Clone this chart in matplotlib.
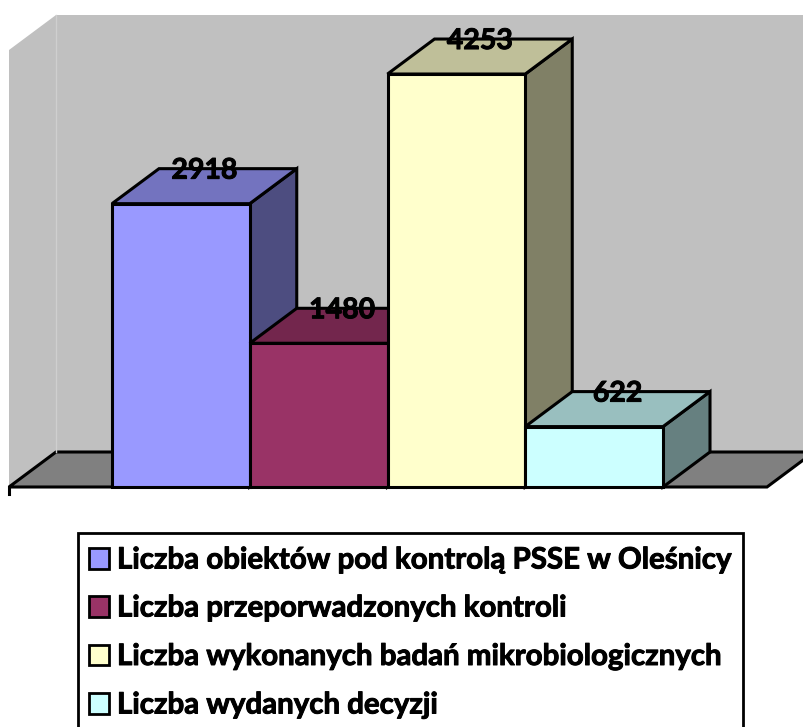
import matplotlib
matplotlib.use("Agg")
import matplotlib.pyplot as plt
import matplotlib.patheffects as pe
from matplotlib.patches import Polygon, Rectangle

labels = ["Liczba obiektów pod kontrolą PSSE w Oleśnicy",
          "Liczba przeporwadzonych kontroli",
          "Liczba wykonanych badań mikrobiologicznych",
          "Liczba wydanych decyzji"]
values = [2918, 1480, 4253, 622]
front_colors = ["#9999FF", "#993366", "#FFFFCC", "#CCFFFF"]
top_colors = ["#7373BF", "#73264D", "#BFBF99", "#99BFBF"]
side_colors = ["#4D4D80", "#4D1A33", "#808066", "#668080"]

W, H = 804, 727
plt.rcParams["font.family"] = ["Lato", "DejaVu Sans"]
plt.rcParams["font.weight"] = "bold"

fig = plt.figure(figsize=(W / 100, H / 100), dpi=100)
ax = fig.add_axes([0, 0, 1, 1])

# one bar is 1 wide on x, y is in the values of the chart
x_px = 137.75
y_px = 0.0971
x0 = 112
y0 = 487
ax.set_xlim(-x0 / x_px, (W - x0) / x_px)
ax.set_ylim(-(H - y0) / y_px, y0 / y_px)
ax.axis("off")

# depth of the fake 3d
dx = 47 / x_px
dy = 35 / y_px
edge = dict(edgecolor="black", linewidth=2.2, joinstyle="miter")
heavy = [pe.withStroke(linewidth=0.7, foreground="black")]

# walls and floor
left = -103 / x_px
right = (767 - x0) / x_px
wall_top = (y0 - 50) / y_px
ax.add_patch(Polygon([(left, 0), (left, wall_top), (left + dx, wall_top + dy), (left + dx, dy)],
                     facecolor="#C0C0C0", edgecolor="none"))
ax.add_patch(Polygon([(left + dx, dy), (left + dx, wall_top + dy), (right + dx, wall_top + dy), (right + dx, dy)],
                     facecolor="#C0C0C0", edgecolor="none"))
ax.plot([left + dx, left + dx], [dy, wall_top + dy], color="#CFCFCF", lw=1)
ax.add_patch(Polygon([(left, 0), (left + dx, dy), (right + dx, dy), (right, 0)], facecolor="#808080", **edge))
ax.plot([left, left], [0, -7 / y_px], color="black", lw=2.2)

for i, v in enumerate(values):
    ax.add_patch(Polygon([(i + 1, 0), (i + 1 + dx, dy), (i + 1 + dx, v + dy), (i + 1, v)],
                         facecolor=side_colors[i], **edge))
    ax.add_patch(Polygon([(i, v), (i + dx, v + dy), (i + 1 + dx, v + dy), (i + 1, v)],
                         facecolor=top_colors[i], **edge))
    ax.add_patch(Rectangle((i, 0), 1, v, facecolor=front_colors[i], **edge))

for i, v in enumerate(values):
    ax.text(i + 0.5 + dx / 2, v + dy - 2 / y_px, str(v), ha="center", va="center", fontsize=20.5, color="black",
            zorder=5, path_effects=heavy)

# legend box runs off the bottom of the picture
def px(x, y):
    return (x - x0) / x_px, (y0 - y) / y_px

lx, ly = px(78, 760)
rx, ry = px(743, 533)
ax.add_patch(Rectangle((lx, ly), rx - lx, ry - ly, facecolor="white", edgecolor="black", linewidth=2))

rows = [568.5, 616.5, 665, 713.5]
for name, color, row in zip(labels, front_colors, rows):
    bx, by = px(88.5, row)
    ex, ey = px(108.5, row - 20.5)
    ax.add_patch(Rectangle((bx, by), ex - bx, ey - by, facecolor=color, edgecolor="black", linewidth=2))
    tx, ty = px(117, row)
    ax.text(tx, ty, name, ha="left", va="baseline", fontsize=21.2, color="black", path_effects=heavy)

fig.savefig("out.png", dpi=100)
